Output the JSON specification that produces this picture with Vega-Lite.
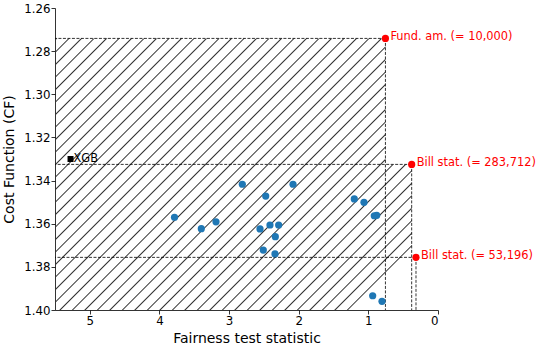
{
  "$schema": "https://vega.github.io/schema/vega-lite/v6.json",
  "width": 383,
  "height": 302,
  "autosize": {"type": "none"},
  "padding": {"left": 55, "top": 8, "right": 100, "bottom": 41},
  "background": "white",
  "config": {
    "view": {"stroke": null},
    "font": "DejaVu Sans",
    "axis": {
      "grid": false,
      "labelFont": "DejaVu Sans",
      "labelFontSize": 11.8,
      "labelColor": "black",
      "titleFont": "DejaVu Sans",
      "titleFontSize": 14,
      "titleFontWeight": "normal",
      "titleColor": "black",
      "domainColor": "black",
      "domainWidth": 0.8,
      "tickColor": "black",
      "tickWidth": 0.8,
      "tickSize": 4,
      "labelPadding": 1
    }
  },
  "data": {
    "values": [
      {"kind": "model", "x": 3.784, "y": 1.3570},
      {"kind": "model", "x": 3.399, "y": 1.3623},
      {"kind": "model", "x": 3.188, "y": 1.3591},
      {"kind": "model", "x": 2.810, "y": 1.3417},
      {"kind": "model", "x": 2.474, "y": 1.3472},
      {"kind": "model", "x": 2.082, "y": 1.3417},
      {"kind": "model", "x": 1.202, "y": 1.3485},
      {"kind": "model", "x": 2.556, "y": 1.3624},
      {"kind": "model", "x": 2.413, "y": 1.3606},
      {"kind": "model", "x": 2.288, "y": 1.3606},
      {"kind": "model", "x": 2.336, "y": 1.3660},
      {"kind": "model", "x": 2.509, "y": 1.3722},
      {"kind": "model", "x": 2.341, "y": 1.3740},
      {"kind": "model", "x": 1.063, "y": 1.3501},
      {"kind": "model", "x": 0.915, "y": 1.3563},
      {"kind": "model", "x": 0.880, "y": 1.3561},
      {"kind": "model", "x": 0.938, "y": 1.3934},
      {"kind": "model", "x": 0.804, "y": 1.3960},
      {"kind": "base", "x": 0.755, "y": 1.2741, "label": "Fund. am. (= 10,000)"},
      {"kind": "base", "x": 0.378, "y": 1.3325, "label": "Bill stat. (= 283,712)"},
      {"kind": "base", "x": 0.316, "y": 1.3756, "label": "Bill stat. (= 53,196)"},
      {"kind": "xgb", "x": 5.277, "y": 1.3300, "label": "XGB"}
    ]
  },
  "encoding": {
    "x": {
      "field": "x", "type": "quantitative",
      "scale": {"domain": [0, 5.5], "reverse": true, "nice": false, "zero": false},
      "axis": {"title": "Fairness test statistic", "values": [0, 1, 2, 3, 4, 5], "format": "d", "titlePadding": 5}
    },
    "y": {
      "field": "y", "type": "quantitative",
      "scale": {"domain": [1.26, 1.40], "reverse": true, "nice": false, "zero": false},
      "axis": {"title": "Cost Function (CF)", "values": [1.26, 1.28, 1.30, 1.32, 1.34, 1.36, 1.38, 1.40], "format": ".2f", "titlePadding": 7}
    }
  },
  "layer": [
    {
      "transform": [
        {"filter": "datum.kind == 'base'"},
        {"aggregate": [{"op": "min", "field": "x", "as": "x"}, {"op": "min", "field": "y", "as": "y"}]}
      ],
      "mark": {
        "type": "rect",
        "fill": {
          "gradient": "linear", "x1": 0, "y1": 0, "x2": 1, "y2": 0.7523,
          "stops": [
            {"offset": 0.0002, "color": "rgba(51,51,51,0)"}, {"offset": 0.0027, "color": "#333333"}, {"offset": 0.0052, "color": "rgba(51,51,51,0)"},
            {"offset": 0.0223, "color": "rgba(51,51,51,0)"}, {"offset": 0.0248, "color": "#333333"}, {"offset": 0.0273, "color": "rgba(51,51,51,0)"},
            {"offset": 0.0444, "color": "rgba(51,51,51,0)"}, {"offset": 0.0469, "color": "#333333"}, {"offset": 0.0494, "color": "rgba(51,51,51,0)"},
            {"offset": 0.0665, "color": "rgba(51,51,51,0)"}, {"offset": 0.0690, "color": "#333333"}, {"offset": 0.0715, "color": "rgba(51,51,51,0)"},
            {"offset": 0.0887, "color": "rgba(51,51,51,0)"}, {"offset": 0.0912, "color": "#333333"}, {"offset": 0.0937, "color": "rgba(51,51,51,0)"},
            {"offset": 0.1108, "color": "rgba(51,51,51,0)"}, {"offset": 0.1133, "color": "#333333"}, {"offset": 0.1158, "color": "rgba(51,51,51,0)"},
            {"offset": 0.1329, "color": "rgba(51,51,51,0)"}, {"offset": 0.1354, "color": "#333333"}, {"offset": 0.1379, "color": "rgba(51,51,51,0)"},
            {"offset": 0.1550, "color": "rgba(51,51,51,0)"}, {"offset": 0.1575, "color": "#333333"}, {"offset": 0.1600, "color": "rgba(51,51,51,0)"},
            {"offset": 0.1771, "color": "rgba(51,51,51,0)"}, {"offset": 0.1796, "color": "#333333"}, {"offset": 0.1821, "color": "rgba(51,51,51,0)"},
            {"offset": 0.1992, "color": "rgba(51,51,51,0)"}, {"offset": 0.2017, "color": "#333333"}, {"offset": 0.2042, "color": "rgba(51,51,51,0)"},
            {"offset": 0.2213, "color": "rgba(51,51,51,0)"}, {"offset": 0.2238, "color": "#333333"}, {"offset": 0.2263, "color": "rgba(51,51,51,0)"},
            {"offset": 0.2434, "color": "rgba(51,51,51,0)"}, {"offset": 0.2459, "color": "#333333"}, {"offset": 0.2484, "color": "rgba(51,51,51,0)"},
            {"offset": 0.2655, "color": "rgba(51,51,51,0)"}, {"offset": 0.2680, "color": "#333333"}, {"offset": 0.2705, "color": "rgba(51,51,51,0)"},
            {"offset": 0.2877, "color": "rgba(51,51,51,0)"}, {"offset": 0.2902, "color": "#333333"}, {"offset": 0.2927, "color": "rgba(51,51,51,0)"},
            {"offset": 0.3098, "color": "rgba(51,51,51,0)"}, {"offset": 0.3123, "color": "#333333"}, {"offset": 0.3148, "color": "rgba(51,51,51,0)"},
            {"offset": 0.3319, "color": "rgba(51,51,51,0)"}, {"offset": 0.3344, "color": "#333333"}, {"offset": 0.3369, "color": "rgba(51,51,51,0)"},
            {"offset": 0.3540, "color": "rgba(51,51,51,0)"}, {"offset": 0.3565, "color": "#333333"}, {"offset": 0.3590, "color": "rgba(51,51,51,0)"},
            {"offset": 0.3761, "color": "rgba(51,51,51,0)"}, {"offset": 0.3786, "color": "#333333"}, {"offset": 0.3811, "color": "rgba(51,51,51,0)"},
            {"offset": 0.3982, "color": "rgba(51,51,51,0)"}, {"offset": 0.4007, "color": "#333333"}, {"offset": 0.4032, "color": "rgba(51,51,51,0)"},
            {"offset": 0.4203, "color": "rgba(51,51,51,0)"}, {"offset": 0.4228, "color": "#333333"}, {"offset": 0.4253, "color": "rgba(51,51,51,0)"},
            {"offset": 0.4424, "color": "rgba(51,51,51,0)"}, {"offset": 0.4449, "color": "#333333"}, {"offset": 0.4474, "color": "rgba(51,51,51,0)"},
            {"offset": 0.4646, "color": "rgba(51,51,51,0)"}, {"offset": 0.4671, "color": "#333333"}, {"offset": 0.4696, "color": "rgba(51,51,51,0)"},
            {"offset": 0.4867, "color": "rgba(51,51,51,0)"}, {"offset": 0.4892, "color": "#333333"}, {"offset": 0.4917, "color": "rgba(51,51,51,0)"},
            {"offset": 0.5088, "color": "rgba(51,51,51,0)"}, {"offset": 0.5113, "color": "#333333"}, {"offset": 0.5138, "color": "rgba(51,51,51,0)"},
            {"offset": 0.5309, "color": "rgba(51,51,51,0)"}, {"offset": 0.5334, "color": "#333333"}, {"offset": 0.5359, "color": "rgba(51,51,51,0)"},
            {"offset": 0.5530, "color": "rgba(51,51,51,0)"}, {"offset": 0.5555, "color": "#333333"}, {"offset": 0.5580, "color": "rgba(51,51,51,0)"},
            {"offset": 0.5751, "color": "rgba(51,51,51,0)"}, {"offset": 0.5776, "color": "#333333"}, {"offset": 0.5801, "color": "rgba(51,51,51,0)"},
            {"offset": 0.5972, "color": "rgba(51,51,51,0)"}, {"offset": 0.5997, "color": "#333333"}, {"offset": 0.6022, "color": "rgba(51,51,51,0)"},
            {"offset": 0.6193, "color": "rgba(51,51,51,0)"}, {"offset": 0.6218, "color": "#333333"}, {"offset": 0.6243, "color": "rgba(51,51,51,0)"},
            {"offset": 0.6415, "color": "rgba(51,51,51,0)"}, {"offset": 0.6440, "color": "#333333"}, {"offset": 0.6465, "color": "rgba(51,51,51,0)"},
            {"offset": 0.6636, "color": "rgba(51,51,51,0)"}, {"offset": 0.6661, "color": "#333333"}, {"offset": 0.6686, "color": "rgba(51,51,51,0)"},
            {"offset": 0.6857, "color": "rgba(51,51,51,0)"}, {"offset": 0.6882, "color": "#333333"}, {"offset": 0.6907, "color": "rgba(51,51,51,0)"},
            {"offset": 0.7078, "color": "rgba(51,51,51,0)"}, {"offset": 0.7103, "color": "#333333"}, {"offset": 0.7128, "color": "rgba(51,51,51,0)"},
            {"offset": 0.7299, "color": "rgba(51,51,51,0)"}, {"offset": 0.7324, "color": "#333333"}, {"offset": 0.7349, "color": "rgba(51,51,51,0)"},
            {"offset": 0.7520, "color": "rgba(51,51,51,0)"}, {"offset": 0.7545, "color": "#333333"}, {"offset": 0.7570, "color": "rgba(51,51,51,0)"},
            {"offset": 0.7741, "color": "rgba(51,51,51,0)"}, {"offset": 0.7766, "color": "#333333"}, {"offset": 0.7791, "color": "rgba(51,51,51,0)"},
            {"offset": 0.7962, "color": "rgba(51,51,51,0)"}, {"offset": 0.7987, "color": "#333333"}, {"offset": 0.8012, "color": "rgba(51,51,51,0)"},
            {"offset": 0.8183, "color": "rgba(51,51,51,0)"}, {"offset": 0.8208, "color": "#333333"}, {"offset": 0.8233, "color": "rgba(51,51,51,0)"},
            {"offset": 0.8405, "color": "rgba(51,51,51,0)"}, {"offset": 0.8430, "color": "#333333"}, {"offset": 0.8455, "color": "rgba(51,51,51,0)"},
            {"offset": 0.8626, "color": "rgba(51,51,51,0)"}, {"offset": 0.8651, "color": "#333333"}, {"offset": 0.8676, "color": "rgba(51,51,51,0)"},
            {"offset": 0.8847, "color": "rgba(51,51,51,0)"}, {"offset": 0.8872, "color": "#333333"}, {"offset": 0.8897, "color": "rgba(51,51,51,0)"},
            {"offset": 0.9068, "color": "rgba(51,51,51,0)"}, {"offset": 0.9093, "color": "#333333"}, {"offset": 0.9118, "color": "rgba(51,51,51,0)"},
            {"offset": 0.9289, "color": "rgba(51,51,51,0)"}, {"offset": 0.9314, "color": "#333333"}, {"offset": 0.9339, "color": "rgba(51,51,51,0)"},
            {"offset": 0.9510, "color": "rgba(51,51,51,0)"}, {"offset": 0.9535, "color": "#333333"}, {"offset": 0.9560, "color": "rgba(51,51,51,0)"},
            {"offset": 0.9731, "color": "rgba(51,51,51,0)"}, {"offset": 0.9756, "color": "#333333"}, {"offset": 0.9781, "color": "rgba(51,51,51,0)"},
            {"offset": 0.9952, "color": "rgba(51,51,51,0)"}, {"offset": 0.9977, "color": "#333333"}, {"offset": 1.0, "color": "rgba(51,51,51,0)"}
          ]
        }
      },
      "encoding": {
        "x2": {"datum": 5.5},
        "y2": {"datum": 1.40}
      }
    },
    {
      "transform": [
        {"filter": "datum.kind == 'base'"},
        {"window": [{"op": "lead", "field": "y", "as": "ny"}], "sort": [{"field": "y", "order": "ascending"}]},
        {"filter": "datum.ny != null"}
      ],
      "mark": {"type": "rect", "fill": "white", "stroke": null},
      "encoding": {
        "x2": {"datum": 0},
        "y2": {"field": "ny"}
      }
    },
    {
      "transform": [{"filter": "datum.kind == 'base'"}],
      "mark": {"type": "rule", "color": "black", "strokeWidth": 0.8, "strokeDash": [3, 1.5]},
      "encoding": {"x2": {"datum": 5.5}}
    },
    {
      "transform": [{"filter": "datum.kind == 'base'"}],
      "mark": {"type": "rule", "color": "black", "strokeWidth": 0.8, "strokeDash": [3, 1.5]},
      "encoding": {"y2": {"datum": 1.40}}
    },
    {
      "transform": [{"filter": "datum.kind == 'model'"}],
      "mark": {"type": "circle", "size": 52, "color": "#1f77b4", "opacity": 1}
    },
    {
      "transform": [{"filter": "datum.kind == 'base'"}],
      "mark": {"type": "circle", "size": 52, "color": "#ff0000", "opacity": 1}
    },
    {
      "transform": [{"filter": "datum.kind == 'base'"}],
      "mark": {"type": "text", "align": "left", "baseline": "middle", "dx": 5, "dy": -1, "fontSize": 11.4, "font": "DejaVu Sans", "color": "#ff0000"},
      "encoding": {"text": {"field": "label"}}
    },
    {
      "transform": [{"filter": "datum.kind == 'xgb'"}],
      "mark": {"type": "square", "size": 36, "color": "black", "opacity": 1}
    },
    {
      "transform": [{"filter": "datum.kind == 'xgb'"}],
      "mark": {"type": "text", "align": "left", "baseline": "middle", "dx": 3, "fontSize": 11.4, "font": "DejaVu Sans", "color": "black"},
      "encoding": {"text": {"field": "label"}}
    }
  ]
}
